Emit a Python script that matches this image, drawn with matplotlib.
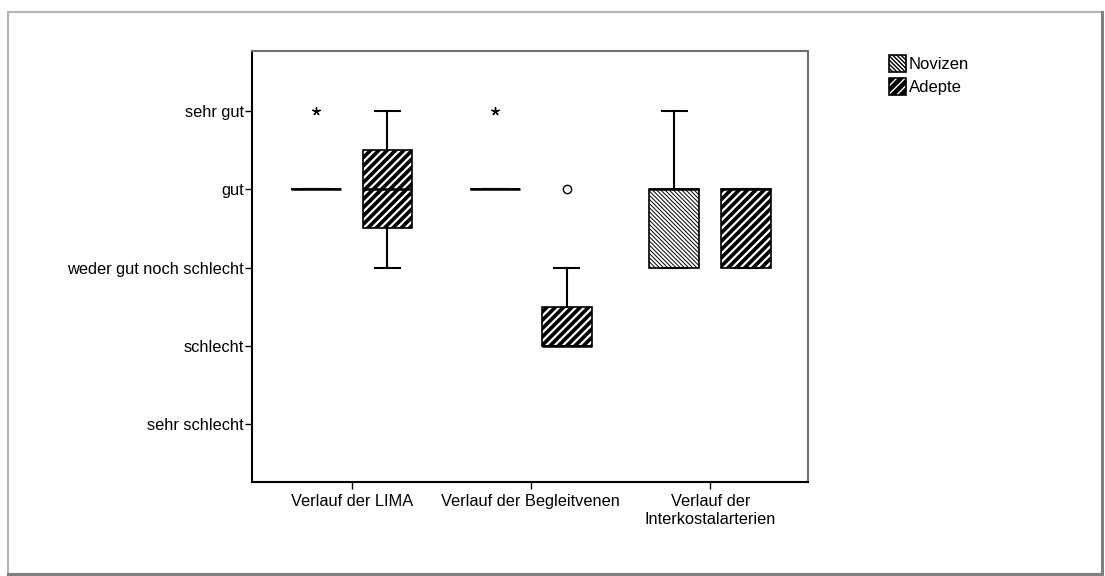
import matplotlib.pyplot as plt
from matplotlib.patches import Patch, Rectangle
from matplotlib.legend_handler import HandlerTuple
import numpy as np

plt.rcParams['font.family'] = ['Liberation Sans', 'DejaVu Sans']
plt.rcParams['hatch.linewidth'] = 1.0

# Data (1 = sehr schlecht ... 5 = sehr gut)
categories = ["Verlauf der LIMA", "Verlauf der Begleitvenen", "Verlauf der\nInterkostalarterien"]
ytick_labels = ["sehr schlecht", "schlecht", "weder gut noch schlecht", "gut", "sehr gut"]
groups = ["Novizen", "Adepte"]

nov_q1 = [4, 4, 3]
nov_med = [4, 4, 4]
nov_q3 = [4, 4, 4]
nov_lo = [4, 4, 3]
nov_hi = [4, 4, 5]
nov_extreme = [[5], [5], []]   # *
nov_outlier = [[], [], []]     # o

ad_q1 = [3.5, 2, 3]
ad_med = [4, 2, 4]
ad_q3 = [4.5, 2.5, 4]
ad_lo = [3, 2, 3]
ad_hi = [5, 3, 4]
ad_extreme = [[], [], []]
ad_outlier = [[], [4], []]

fig = plt.figure(figsize=(11.05, 5.76), dpi=100)
ax = fig.add_axes([0.228, 0.1632, 0.503, 0.7483])

# outer frame
fig.add_artist(Rectangle((8 / 1105, 1 - 574 / 576), (1102 - 8) / 1105, (574 - 12) / 576,
                         transform=fig.transFigure, fill=False, edgecolor='#b4b4b4', lw=1.5))
fig.add_artist(plt.Line2D([1102 / 1105, 1102 / 1105], [1 - 574 / 576, 1 - 12 / 576],
                          transform=fig.transFigure, color='#808080', lw=2.2))
fig.add_artist(plt.Line2D([8 / 1105, 1102 / 1105], [1 - 574 / 576, 1 - 574 / 576],
                          transform=fig.transFigure, color='#808080', lw=2.2))

pos = np.arange(1, len(categories) + 1)
offset = 0.2
width = 0.278


def stats(q1, med, q3, lo, hi):
    return [dict(q1=a, med=b, q3=c, whislo=d, whishi=e, fliers=[])
            for a, b, c, d, e in zip(q1, med, q3, lo, hi)]


styles = [
    dict(face='white', hatchcol='black', hatch='\\' * 8, hlw=0.7),
    dict(face='black', hatchcol='white', hatch='////', hlw=1.6),
]

for k, (st, extreme, outlier) in enumerate([
        (stats(nov_q1, nov_med, nov_q3, nov_lo, nov_hi), nov_extreme, nov_outlier),
        (stats(ad_q1, ad_med, ad_q3, ad_lo, ad_hi), ad_extreme, ad_outlier)]):
    p = pos + (-offset if k == 0 else offset)
    s = styles[k]
    bp = ax.bxp(st, positions=p, widths=width, patch_artist=True, showfliers=False,
                medianprops=dict(color='black', lw=1.8),
                whiskerprops=dict(color='black', lw=1.5),
                capprops=dict(color='black', lw=1.5),
                boxprops=dict(lw=0))
    for b, xp, d in zip(bp['boxes'], p, st):
        b.set_facecolor(s['face'])
        b.set_edgecolor(s['hatchcol'])
        b.set_hatch(s['hatch'])
        if hasattr(b, 'set_hatch_linewidth'):
            b.set_hatch_linewidth(s['hlw'])
        ax.add_patch(Rectangle((xp - width / 2, d['q1']), width, d['q3'] - d['q1'],
                               fill=False, edgecolor='black', lw=1.2, zorder=2.5))
    for xp, ev, ov in zip(p, extreme, outlier):
        if ev:
            ax.plot([xp] * len(ev), ev, ls='none', marker=(5, 2, 0), ms=6, color='black', mew=1)
        if ov:
            ax.plot([xp] * len(ov), ov, ls='none', marker='o', ms=6, mfc='white', mec='black', mew=1)

ax.set_xlim(0.444, 3.544)
ax.set_ylim(0.259, 5.767)
ax.set_xticks(pos)
ax.set_xticklabels(categories, fontsize=11.8)
ax.set_yticks(range(1, 6))
ax.set_yticklabels(ytick_labels, fontsize=11.8)
ax.tick_params(length=5, width=1, color='black')
ax.tick_params(axis='y', pad=1)
ax.tick_params(axis='x', pad=4)
for side in ['top', 'right']:
    ax.spines[side].set_color('#707070')
    ax.spines[side].set_linewidth(1.5)
for side in ['left', 'bottom']:
    ax.spines[side].set_color('black')
    ax.spines[side].set_linewidth(1.5)

handles = []
for s in styles:
    fillp = Patch(facecolor=s['face'], edgecolor=s['hatchcol'], hatch=s['hatch'], lw=0)
    if hasattr(fillp, 'set_hatch_linewidth'):
        fillp.set_hatch_linewidth(s['hlw'])
    edge = Patch(fill=False, edgecolor='black', lw=1.2)
    handles.append((fillp, edge))
leg = fig.legend(handles, groups, loc='upper left', bbox_to_anchor=(0.8045, 0.905),
                 frameon=False, fontsize=12, handlelength=1.05, handleheight=1.2,
                 handletextpad=0.15, labelspacing=0.35, borderaxespad=0, borderpad=0,
                 handler_map={tuple: HandlerTuple(ndivide=1)})

fig.savefig('out.png', dpi=100, facecolor='white')
